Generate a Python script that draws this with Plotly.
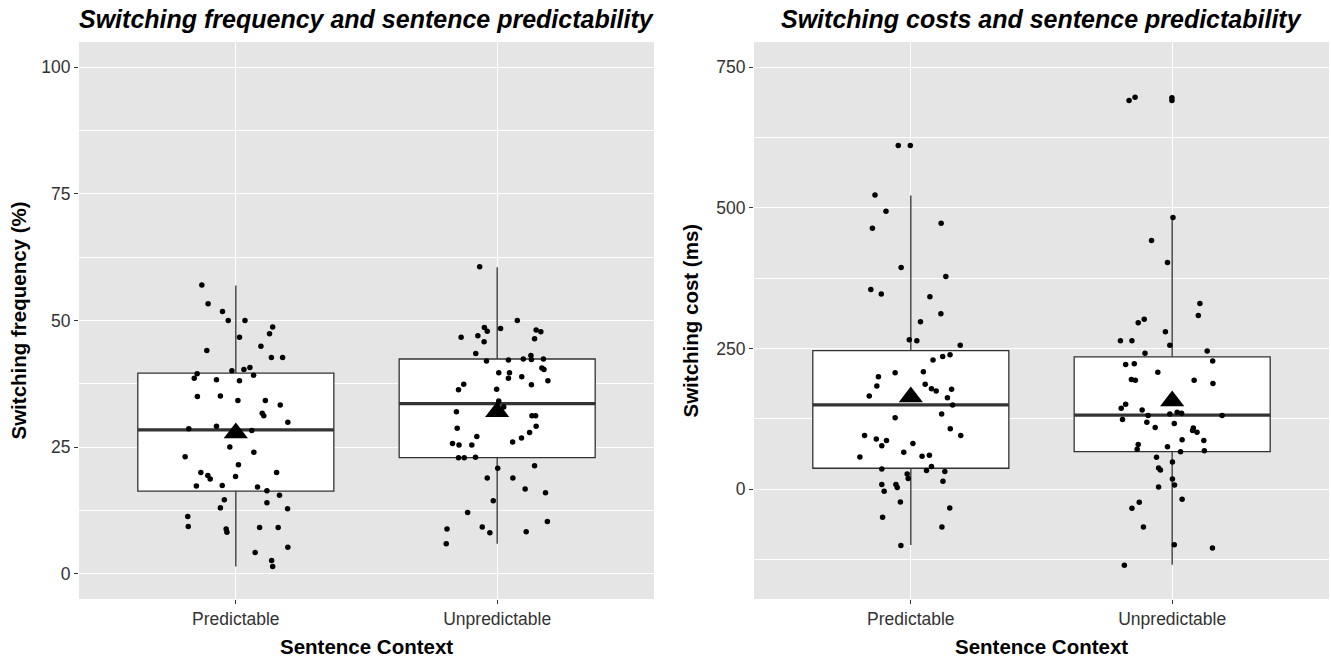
import plotly.graph_objects as go

# ---------------- data ----------------
categories = ["Predictable", "Unpredictable"]

# Switching frequency (%) – individual participants
freq_pred_vals = [57.0, 53.3, 51.8, 50.0, 50.0, 48.7, 47.4, 46.7, 44.9, 44.1, 42.7, 42.7, 40.1, 40.3, 40.7,
                  39.5, 39.2, 38.6, 38.3, 38.1, 35.0, 35.1, 34.2, 34.2, 33.3, 31.7, 31.2, 29.9, 28.6, 29.1,
                  28.3, 25.0, 24.0, 23.1, 21.5, 20.0, 19.4, 18.7, 20.0, 19.2, 17.3, 17.4, 17.1, 16.4, 15.5,
                  14.6, 14.0, 13.0, 12.8, 11.3, 9.3, 8.8, 8.2, 9.1, 9.1, 5.2, 4.2, 2.6, 1.4]
freq_pred_jit = [-0.130, -0.106, -0.051, -0.029, 0.035, 0.141, 0.129, 0.014, 0.096, -0.111, 0.136, 0.179,
                 -0.015, 0.031, 0.054, -0.148, 0.068, -0.159, -0.074, 0.014, -0.147, -0.059, 0.008, 0.113,
                 0.170, 0.101, 0.107, 0.199, -0.180, -0.074, 0.061, -0.023, 0.069, -0.194, 0.010, -0.134,
                 -0.107, -0.098, 0.156, -0.001, -0.151, -0.052, 0.083, 0.119, 0.167, -0.044, 0.119, -0.059,
                 0.198, -0.184, -0.182, -0.037, -0.034, 0.091, 0.162, 0.199, 0.074, 0.137, 0.141]

freq_unp_vals = [60.6, 50.0, 48.6, 47.9, 48.4, 46.7, 47.0, 45.8, 48.1, 47.8, 46.4, 43.5, 42.0, 42.2, 42.4,
                 43.1, 42.3, 42.4, 39.7, 39.7, 38.6, 38.9, 40.6, 40.3, 38.1, 37.3, 37.4, 36.3, 36.4, 34.1,
                 32.9, 32.0, 31.2, 31.2, 28.7, 29.1, 27.9, 27.1, 26.8, 26.0, 25.7, 25.4, 25.4, 22.9, 22.9,
                 23.0, 20.8, 21.3, 18.9, 18.9, 16.7, 16.0, 14.4, 12.1, 10.3, 8.8, 9.2, 8.1, 8.3, 5.9]
freq_unp_jit = [-0.067, 0.077, -0.049, -0.038, 0.013, -0.138, -0.074, -0.050, 0.149, 0.167, 0.143, -0.082,
                -0.041, 0.043, 0.100, 0.129, 0.131, 0.177, 0.006, 0.047, 0.043, 0.094, 0.171, 0.179, 0.194,
                0.131, -0.128, -0.148, -0.002, 0.006, 0.025, -0.156, 0.133, 0.147, -0.153, 0.149, 0.124,
                -0.078, 0.093, 0.059, -0.171, -0.146, -0.097, -0.148, -0.126, -0.083, 0.002, 0.143, -0.038,
                0.060, 0.107, 0.185, -0.015, -0.113, 0.192, -0.192, -0.057, -0.028, 0.111, -0.195]

# Switching cost (ms) – individual participants
cost_pred_vals = [611, 611, 523, 494, 464, 473, 394, 378, 355, 347, 342, 312, 298, 266, 264, 256, 239, 236,
                  230, 207, 209, 200, 183.5, 186.5, 178.7, 174.6, 177.6, 166, 162.7, 149.7, 127, 133.6, 107.5,
                  95.6, 95.6, 89.6, 86.8, 77.2, 81.4, 65.9, 57.6, 58.8, 60.6, 40.4, 33.2, 36.2, 31.5, 27.3,
                  19.0, 14.3, 8.3, 8.3, 3.0, -3.6, -22.6, -33.3, -49.9, -67.1, -99.8]
cost_pred_jit = [-0.048, -0.002, -0.137, -0.095, -0.147, 0.116, -0.037, 0.134, -0.153, -0.113, 0.073, 0.115,
                 0.037, -0.006, 0.023, 0.189, 0.150, 0.122, 0.085, -0.060, 0.048, -0.124, -0.130, 0.055,
                 0.079, 0.097, 0.156, -0.159, 0.140, 0.160, -0.060, 0.118, 0.151, 0.191, -0.177, -0.132,
                 -0.093, -0.111, 0.008, -0.027, -0.195, 0.043, 0.071, 0.079, 0.060, -0.111, 0.130, -0.014,
                 -0.010, 0.123, -0.111, -0.057, -0.052, -0.102, -0.040, 0.149, -0.108, 0.119, -0.038]

cost_unp_vals = [691, 697, 696, 691, 483, 442, 403, 330, 309, 302, 296, 280, 264, 264, 256, 246, 242, 228,
                 222, 223, 208, 195, 194, 194, 188, 144, 151, 141, 131, 124, 134, 137, 135, 131, 119, 117,
                 110, 109, 104.5, 101.5, 88, 86.7, 79.6, 71.3, 75.4, 66.5, 68.3, 57.0, 48.7, 38.0, 34.4,
                 18.4, 7.7, 4.1, -17.8, -23.2, -33.9, -67.1, -98.6, -104.5, -134.8]
cost_unp_jit = [-0.165, -0.142, -0.001, -0.001, 0.003, -0.079, -0.018, 0.106, 0.100, -0.107, -0.130, -0.026,
                -0.198, -0.154, -0.009, 0.134, -0.104, 0.155, -0.178, -0.145, -0.055, -0.156, -0.141, 0.084,
                0.156, -0.195, -0.178, -0.115, -0.092, -0.190, -0.009, 0.019, 0.036, 0.191, -0.097, 0.008,
                -0.065, 0.081, 0.078, 0.095, 0.038, 0.121, -0.130, -0.134, -0.018, 0.032, 0.123, -0.060,
                0.001, -0.052, -0.045, 0.001, 0.009, -0.052, 0.038, -0.126, -0.154, -0.110, 0.008, 0.154,
                -0.183]

# Box summaries (Predictable, Unpredictable)
freq_q1 = [16.3, 22.9]
freq_median = [28.4, 33.6]
freq_q3 = [39.6, 42.4]
freq_lower = [1.4, 5.9]
freq_upper = [56.9, 60.5]
freq_mean = [27.8, 32.0]

cost_q1 = [37.4, 67.1]
cost_median = [150.2, 131.8]
cost_q3 = [246.4, 235.2]
cost_lower = [-99.2, -134.2]
cost_upper = [522, 483.4]
cost_mean = [164, 157]

titles = ["Switching frequency and sentence predictability",
          "Switching costs and sentence predictability"]
y_titles = ["Switching frequency (%)", "Switching cost (ms)"]
x_title = "Sentence Context"

# ---------------- figure ----------------
W, H = 1331, 659
FONT = "Liberation Sans, Arial, sans-serif"
BOX_W = 0.75
pos = [1, 2]

fig = go.Figure()

panels = [
    dict(xa="x", ya="y", q1=freq_q1, med=freq_median, q3=freq_q3, lo=freq_lower, hi=freq_upper,
         mean=freq_mean, pts=[(freq_pred_vals, freq_pred_jit), (freq_unp_vals, freq_unp_jit)]),
    dict(xa="x2", ya="y2", q1=cost_q1, med=cost_median, q3=cost_q3, lo=cost_lower, hi=cost_upper,
         mean=cost_mean, pts=[(cost_pred_vals, cost_pred_jit), (cost_unp_vals, cost_unp_jit)]),
]

for p in panels:
    fig.add_trace(go.Box(
        x=pos, q1=p["q1"], median=p["med"], q3=p["q3"],
        lowerfence=p["lo"], upperfence=p["hi"],
        width=BOX_W, whiskerwidth=0, boxpoints=False,
        fillcolor="white", line=dict(color="#333333", width=1.3),
        xaxis=p["xa"], yaxis=p["ya"], showlegend=False, hoverinfo="skip"))
    for c, m in zip(pos, p["med"]):
        fig.add_trace(go.Scatter(
            x=[c - BOX_W / 2, c + BOX_W / 2], y=[m, m], mode="lines",
            line=dict(color="#333333", width=3.2),
            xaxis=p["xa"], yaxis=p["ya"], showlegend=False, hoverinfo="skip"))
    for c, (vals, jit) in zip(pos, p["pts"]):
        fig.add_trace(go.Scatter(
            x=[c + j for j in jit], y=vals, mode="markers",
            marker=dict(color="black", size=5.5),
            xaxis=p["xa"], yaxis=p["ya"], showlegend=False))
    fig.add_trace(go.Scatter(
        x=pos, y=p["mean"], mode="markers",
        marker=dict(symbol="triangle-up", color="black", size=21),
        xaxis=p["xa"], yaxis=p["ya"], showlegend=False))

def px_x(v):
    return v / W

def px_y(v):
    return 1 - v / H

panel_x = [(79, 654), (754, 1329)]
panel_y = (42, 599)

tick_font = dict(family=FONT, size=17.5, color="#333333")
common_x = dict(range=[0.4, 2.6], tickvals=pos, ticktext=categories, showgrid=True,
                gridcolor="white", gridwidth=1.3, zeroline=False, ticks="outside", ticklen=4,
                tickcolor="#333333", tickwidth=1, tickfont=tick_font, showline=False, fixedrange=True)
common_y = dict(showgrid=True, gridcolor="white", gridwidth=1.3, zeroline=False, ticks="outside",
                ticklen=4, tickcolor="#333333", tickwidth=1, tickfont=tick_font, showline=False)

fig.update_layout(
    width=W, height=H,
    margin=dict(l=0, r=0, t=0, b=0),
    paper_bgcolor="white", plot_bgcolor="#E5E5E5",
    font=dict(family=FONT),
    xaxis=dict(domain=[px_x(panel_x[0][0]), px_x(panel_x[0][1])], anchor="y", **common_x),
    yaxis=dict(domain=[px_y(panel_y[1]), px_y(panel_y[0])], anchor="x", range=[-5, 105],
               tickvals=[0, 25, 50, 75, 100],
               minor=dict(tickvals=[12.5, 37.5, 62.5, 87.5], showgrid=True, gridcolor="white",
                          gridwidth=0.6, ticks=""),
               **common_y),
    xaxis2=dict(domain=[px_x(panel_x[1][0]), px_x(panel_x[1][1])], anchor="y2", **common_x),
    yaxis2=dict(domain=[px_y(panel_y[1]), px_y(panel_y[0])], anchor="x2", range=[-195, 795],
                tickvals=[0, 250, 500, 750],
                minor=dict(tickvals=[-125, 125, 375, 625], showgrid=True, gridcolor="white",
                           gridwidth=0.6, ticks=""),
                **common_y),
)

annotations = []
for i in range(2):
    cx = (panel_x[i][0] + panel_x[i][1]) / 2
    annotations.append(dict(text="<b><i>" + titles[i] + "</i></b>", x=px_x(cx), y=px_y(19),
                            xref="paper", yref="paper", xanchor="center", yanchor="middle",
                            showarrow=False, font=dict(family=FONT, size=25, color="black")))
    annotations.append(dict(text="<b>" + x_title + "</b>", x=px_x(cx), y=px_y(646),
                            xref="paper", yref="paper", xanchor="center", yanchor="middle",
                            showarrow=False, font=dict(family=FONT, size=20.5, color="black")))
ycx = [18, 690]
for i in range(2):
    annotations.append(dict(text="<b>" + y_titles[i] + "</b>", x=px_x(ycx[i]),
                            y=px_y((panel_y[0] + panel_y[1]) / 2), textangle=-90,
                            xref="paper", yref="paper", xanchor="center", yanchor="middle",
                            showarrow=False, font=dict(family=FONT, size=20.5, color="black")))
fig.update_layout(annotations=annotations)

fig.write_html("out.html", config={"displayModeBar": False},
               post_script="document.body.style.margin='0px';")
